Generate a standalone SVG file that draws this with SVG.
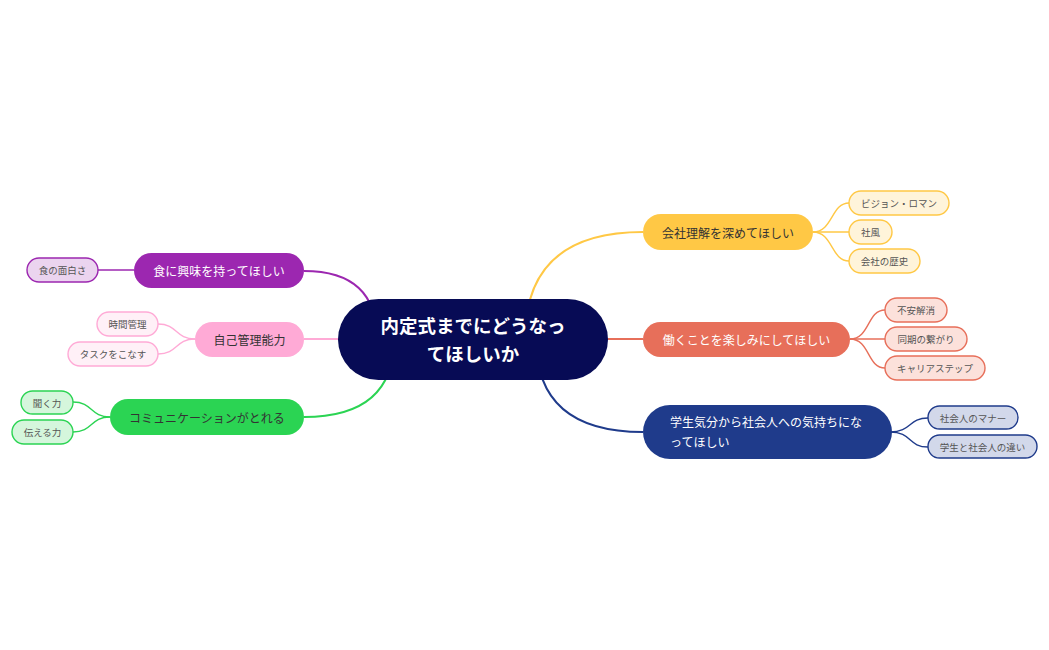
<svg xmlns="http://www.w3.org/2000/svg" width="1049" height="650" viewBox="0 0 1049 650">
<style>
text{font-family:"Noto Sans CJK JP","Noto Sans",sans-serif;dominant-baseline:central;text-anchor:middle}
.main{font-size:12px}
.sub{font-size:9.5px;fill:#555}
.line{fill:none;stroke-width:2}
.sline{fill:none;stroke-width:1.4}
.w{fill:#fff}
.d{fill:#333}
</style>
<rect width="1049" height="650" fill="#fff"/>
<g id="connectors">
<path class="line" stroke="#ffc845" d="M525 339 Q525 232 643 232"/>
<path class="line" stroke="#e76f5a" d="M600 339 L643 339"/>
<path class="line" stroke="#1f3b8b" d="M536 339 Q536 432 643 432"/>
<path class="line" stroke="#9c27b0" d="M377 339 Q377 271 304 271"/>
<path class="line" stroke="#ffaad6" d="M345 339 L304 339"/>
<path class="line" stroke="#2bd453" d="M394 339 Q394 417 304 417"/>
<path class="sline" stroke="#ffc845" d="M813 232 C833 232 831 203 849 203"/>
<path class="sline" stroke="#ffc845" d="M813 232 L849 232"/>
<path class="sline" stroke="#ffc845" d="M813 232 C833 232 831 261 849 261"/>
<path class="sline" stroke="#e76f5a" d="M850 339 C870 339 867 310 885 310"/>
<path class="sline" stroke="#e76f5a" d="M850 339 L885 339"/>
<path class="sline" stroke="#e76f5a" d="M850 339 C870 339 867 368 885 368"/>
<path class="sline" stroke="#1f3b8b" d="M890 432 C912 432 908 418 928 418"/>
<path class="sline" stroke="#1f3b8b" d="M890 432 C912 432 908 447 928 447"/>
<path class="sline" stroke="#9c27b0" d="M134 270 L98 270"/>
<path class="sline" stroke="#ffaad6" d="M195 339 C175 339 178 324 158 324"/>
<path class="sline" stroke="#ffaad6" d="M195 339 C175 339 178 354 158 354"/>
<path class="sline" stroke="#2bd453" d="M110 417 C90 417 93 402 73 402"/>
<path class="sline" stroke="#2bd453" d="M110 417 C90 417 93 432 73 432"/>
</g>
<g id="root">
<rect x="338" y="299" width="270" height="81" rx="40.5" fill="#070b55"/>
<text x="473" y="325" font-size="18.5" font-weight="bold" class="w">内定式までにどうなっ</text>
<text x="473" y="353" font-size="18.5" font-weight="bold" class="w">てほしいか</text>
</g>
<g id="n-kaisha">
<rect x="643" y="214" width="170" height="36" rx="18" fill="#ffc845"/>
<text x="728" y="232" class="main d">会社理解を深めてほしい</text>
</g>
<g id="n-vision">
<rect x="849" y="191" width="100" height="24" rx="12" fill="#fff4da" stroke="#ffc845" stroke-width="1.4"/>
<text x="899" y="203" class="sub">ビジョン・ロマン</text>
</g>
<g id="n-shafu">
<rect x="849" y="220" width="43" height="24" rx="12" fill="#fff4da" stroke="#ffc845" stroke-width="1.4"/>
<text x="870.5" y="232" class="sub">社風</text>
</g>
<g id="n-rekishi">
<rect x="849" y="249" width="71" height="24" rx="12" fill="#fff4da" stroke="#ffc845" stroke-width="1.4"/>
<text x="884.5" y="261" class="sub">会社の歴史</text>
</g>
<g id="n-hataraku">
<rect x="643" y="322" width="207" height="35" rx="17.5" fill="#e76f5a"/>
<text x="746.5" y="339.5" class="main w">働くことを楽しみにしてほしい</text>
</g>
<g id="n-fuan">
<rect x="885" y="298" width="62" height="24" rx="12" fill="#fce1db" stroke="#e76f5a" stroke-width="1.4"/>
<text x="916" y="310" class="sub">不安解消</text>
</g>
<g id="n-doki">
<rect x="885" y="327" width="82" height="24" rx="12" fill="#fce1db" stroke="#e76f5a" stroke-width="1.4"/>
<text x="926" y="339" class="sub">同期の繋がり</text>
</g>
<g id="n-career">
<rect x="885" y="356" width="100" height="24" rx="12" fill="#fce1db" stroke="#e76f5a" stroke-width="1.4"/>
<text x="935" y="368" class="sub">キャリアステップ</text>
</g>
<g id="n-gakusei">
<rect x="643" y="405" width="249" height="54" rx="27" fill="#1f3b8b"/>
<text x="670" y="421.5" class="main w" text-anchor="start" style="text-anchor:start">学生気分から社会人への気持ちにな</text>
<text x="670" y="441" class="main w" style="text-anchor:start">ってほしい</text>
</g>
<g id="n-manner">
<rect x="928" y="406" width="90" height="23" rx="11.5" fill="#d2d8ea" stroke="#1f3b8b" stroke-width="1.4"/>
<text x="973" y="417.5" class="sub">社会人のマナー</text>
</g>
<g id="n-chigai">
<rect x="928" y="435" width="109" height="23" rx="11.5" fill="#d2d8ea" stroke="#1f3b8b" stroke-width="1.4"/>
<text x="982.5" y="446.5" class="sub">学生と社会人の違い</text>
</g>
<g id="n-shoku">
<rect x="134" y="253" width="170" height="35" rx="17.5" fill="#9c27b0"/>
<text x="219" y="270.5" class="main w">食に興味を持ってほしい</text>
</g>
<g id="n-omoshiro">
<rect x="27" y="258" width="71" height="24" rx="12" fill="#ebd4ef" stroke="#9c27b0" stroke-width="1.4"/>
<text x="62.5" y="270" class="sub">食の面白さ</text>
</g>
<g id="n-jiko">
<rect x="195" y="322" width="109" height="35" rx="17.5" fill="#ffaad6"/>
<text x="249.5" y="339.5" class="main d">自己管理能力</text>
</g>
<g id="n-jikan">
<rect x="97" y="312" width="61" height="24" rx="12" fill="#fff0f7" stroke="#ffaad6" stroke-width="1.4"/>
<text x="127.5" y="324" class="sub">時間管理</text>
</g>
<g id="n-task">
<rect x="68" y="342" width="90" height="24" rx="12" fill="#fff0f7" stroke="#ffaad6" stroke-width="1.4"/>
<text x="113" y="354" class="sub">タスクをこなす</text>
</g>
<g id="n-comm">
<rect x="110" y="399" width="194" height="36" rx="18" fill="#2bd453"/>
<text x="207" y="417" class="main d">コミュニケーションがとれる</text>
</g>
<g id="n-kiku">
<rect x="21" y="391" width="52" height="23" rx="11.5" fill="#d5f6dc" stroke="#2bd453" stroke-width="1.4"/>
<text x="47" y="402.5" class="sub">聞く力</text>
</g>
<g id="n-tsutaeru">
<rect x="12" y="420" width="61" height="24" rx="12" fill="#d5f6dc" stroke="#2bd453" stroke-width="1.4"/>
<text x="42.5" y="432" class="sub">伝える力</text>
</g>
</svg>
